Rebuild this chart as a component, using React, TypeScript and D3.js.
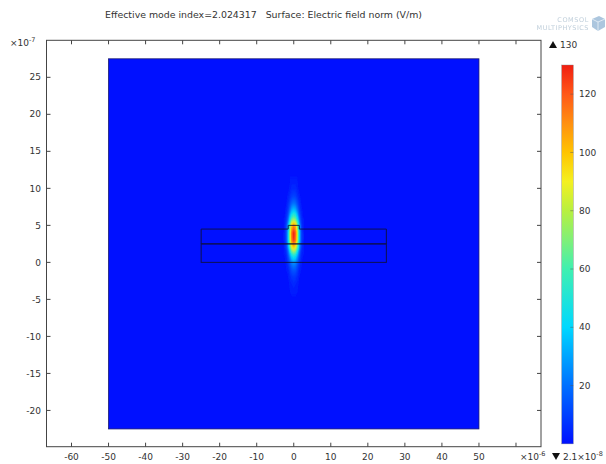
import React from "react";
import * as d3 from "d3";

// chart text
const title = "Effective mode index=2.024317   Surface: Electric field norm (V/m)";
const xTicks = [-60, -50, -40, -30, -20, -10, 0, 10, 20, 30, 40, 50, 60];
const xLabeled = [-60, -50, -40, -30, -20, -10, 0, 10, 20, 30, 40, 50];
const yTicks = [-20, -15, -10, -5, 0, 5, 10, 15, 20, 25];
const colorTicks = [20, 40, 60, 80, 100, 120];
const colorMax = 130;
const colorMinText = "2.1×10";
const colorMinExp = "-8";

// geometry (x in 1e-6 m, y in 1e-7 m)
const domainX = [-50, 50];
const domainY = [-22.5, 27.5];
const layerX = [-25, 25];
const layerY = [0, 2.5, 4.5];
const ridgeX = [-1.5, 1.5];
const ridgeTop = 5;

// electric field norm around the guided mode (V/m)
const fieldX = [-2.5, -2, -1.5, -1, -0.5, 0, 0.5, 1, 1.5, 2, 2.5];
const fieldY = [11, 10, 9, 8, 7, 6, 5, 4, 3, 2, 1, 0, -1, -2, -3, -4, -5];
const fieldE = [
  [0, 0, 1, 2, 3, 3, 3, 2, 1, 0, 0],
  [0, 1, 1, 3, 5, 5, 5, 3, 1, 1, 0],
  [0, 1, 3, 6, 9, 10, 9, 6, 3, 1, 0],
  [1, 2, 6, 12, 18, 20, 18, 12, 6, 2, 1],
  [1, 4, 10, 22, 33, 37, 33, 22, 10, 4, 1],
  [2, 7, 18, 40, 59, 66, 59, 40, 18, 7, 2],
  [3, 11, 31, 66, 99, 110, 99, 66, 31, 11, 3],
  [4, 13, 36, 78, 117, 130, 117, 78, 36, 13, 4],
  [4, 13, 36, 76, 114, 127, 114, 76, 36, 13, 4],
  [3, 10, 27, 59, 88, 98, 88, 59, 27, 10, 3],
  [2, 5, 15, 31, 47, 52, 47, 31, 15, 5, 2],
  [1, 3, 8, 16, 24, 27, 24, 16, 8, 3, 1],
  [0, 2, 4, 9, 14, 15, 14, 9, 4, 2, 0],
  [0, 1, 2, 5, 7, 8, 7, 5, 2, 1, 0],
  [0, 0, 1, 3, 4, 5, 4, 3, 1, 0, 0],
  [0, 0, 1, 2, 3, 3, 3, 2, 1, 0, 0],
  [0, 0, 0, 1, 1, 1, 1, 1, 0, 0, 0],
];

// rainbow colour table
const colorDomain = [0, 20, 40, 60, 70, 80, 90, 100, 110, 120, 130];
const colorRange = ["#0010ff", "#0070ff", "#00d8ff", "#40f0b0", "#80f078", "#b8f040", "#f4f020", "#ffc400", "#ff9010", "#ff5818", "#f01e10"];

const W = 606;
const H = 464;
const font = "DejaVu Sans, sans-serif";
const ink = "#333";
const axisColor = "#444";

export default function App() {
  const x = d3.scaleLinear().domain([-66.75, 66.75]).range([46.5, 541]);
  const y = d3.scaleLinear().domain([-24.9, 30]).range([446.7, 40.3]);
  const color = d3.scaleLinear<string>().domain(colorDomain).range(colorRange).interpolate(d3.interpolateRgb);
  const cb = d3.scaleLinear().domain([0, colorMax]).range([443.9, 65]);
  const cbX = 561.7;
  const cbW = 11.6;

  const nx = fieldX.length;
  const ny = fieldY.length;
  const stepX = fieldX[1] - fieldX[0];
  const stepY = fieldY[1] - fieldY[0];
  const bands = d3.contours().size([nx, ny]).thresholds(d3.range(2, 131, 2))(fieldE.flat());
  const proj = d3.geoTransform({
    point(px: number, py: number) {
      (this as any).stream.point(x(fieldX[0] + (px - 0.5) * stepX), y(fieldY[0] + (py - 0.5) * stepY));
    },
  });
  const geoPath = d3.geoPath(proj);

  const [x0, x1] = domainX;
  const [y0, y1] = domainY;
  const topOutline = d3.path();
  topOutline.moveTo(x(layerX[0]), y(layerY[1]));
  topOutline.lineTo(x(layerX[0]), y(layerY[2]));
  topOutline.lineTo(x(ridgeX[0]), y(layerY[2]));
  topOutline.lineTo(x(ridgeX[0]), y(ridgeTop));
  topOutline.lineTo(x(ridgeX[1]), y(ridgeTop));
  topOutline.lineTo(x(ridgeX[1]), y(layerY[2]));
  topOutline.lineTo(x(layerX[1]), y(layerY[2]));
  topOutline.lineTo(x(layerX[1]), y(layerY[1]));
  topOutline.closePath();

  const gradStops = d3.range(0, colorMax + 1, 5);

  return (
    <svg width={W} height={H} style={{ position: "fixed", left: 0, top: 0, background: "#fff" }} fontFamily={font}>
      <defs>
        <filter id="soft" x="-50%" y="-50%" width="200%" height="200%">
          <feGaussianBlur stdDeviation="0.6 1.3" />
        </filter>
        <linearGradient id="cbar" x1="0" y1="1" x2="0" y2="0">
          {gradStops.map((v) => (
            <stop key={v} offset={v / colorMax} stopColor={color(v)} />
          ))}
        </linearGradient>
      </defs>

      {/* title */}
      <text x={263.5} y={18} textAnchor="middle" fontSize={9.4} fill={ink} xmlSpace="preserve">
        {title}
      </text>

      {/* logo */}
      <g opacity={0.5}>
        <text x={589} y={22} textAnchor="end" fontSize={6.5} fill="#7f9db5" letterSpacing={0.6}>COMSOL</text>
        <text x={589} y={29.5} textAnchor="end" fontSize={6.5} fill="#7f9db5" letterSpacing={0.5}>MULTIPHYSICS</text>
        <path d="M592,19 L599,16 L605,19 L605,27 L598,31 L592,27 Z" fill="#5b8fbf" />
        <path d="M592,19 L598,22 L605,19 M598,22 L598,31" stroke="#d8e6f2" strokeWidth={0.8} fill="none" />
      </g>

      {/* domain surface */}
      <rect x={x(x0)} y={y(y1)} width={x(x1) - x(x0)} height={y(y0) - y(y1)} fill={color(0)} />
      <g filter="url(#soft)">
        {bands.map((b) => (
          <path key={b.value} d={geoPath(b as any) || ""} fill={color(b.value + 1)} />
        ))}
      </g>
      <rect x={x(x0)} y={y(y1)} width={x(x1) - x(x0)} height={y(y0) - y(y1)} fill="none" stroke="#1a1a70" strokeWidth={0.8} />

      {/* waveguide layers */}
      <g fill="none" stroke="#101030" strokeWidth={1} opacity={0.85}>
        <path d={topOutline.toString()} />
        <rect x={x(layerX[0])} y={y(layerY[1])} width={x(layerX[1]) - x(layerX[0])} height={y(layerY[0]) - y(layerY[1])} />
      </g>

      {/* frame */}
      <rect x={46.5} y={40.3} width={541 - 46.5} height={446.7 - 40.3} fill="none" stroke={axisColor} strokeWidth={1} />
      <g stroke={axisColor} strokeWidth={1}>
        {xTicks.map((t) => (
          <g key={"xt" + t}>
            <line x1={x(t)} x2={x(t)} y1={446.7} y2={442.7} />
            <line x1={x(t)} x2={x(t)} y1={40.3} y2={44.3} />
          </g>
        ))}
        {yTicks.map((t) => (
          <g key={"yt" + t}>
            <line x1={46.5} x2={50.5} y1={y(t)} y2={y(t)} />
            <line x1={541} x2={537} y1={y(t)} y2={y(t)} />
          </g>
        ))}
      </g>
      <g fontSize={9} fill={ink}>
        {xLabeled.map((t) => (
          <text key={"xl" + t} x={x(t)} y={460} textAnchor="middle">{t}</text>
        ))}
        {yTicks.map((t) => (
          <text key={"yl" + t} x={41} y={y(t)} dy="0.35em" textAnchor="end">{t}</text>
        ))}
        <text x={520} y={460}>
          ×10<tspan dy={-4} fontSize={6.5}>-6</tspan>
        </text>
        <text x={10} y={46}>
          ×10<tspan dy={-4} fontSize={6.5}>-7</tspan>
        </text>
      </g>

      {/* colour legend */}
      <rect x={cbX} y={cb(colorMax)} width={cbW} height={cb(0) - cb(colorMax)} fill="url(#cbar)" stroke="#888" strokeWidth={0.4} />
      <g stroke="#555" strokeWidth={0.8} opacity={0.6}>
        {colorTicks.map((t) => (
          <line key={"ct" + t} x1={cbX + cbW - 3} x2={cbX + cbW} y1={cb(t)} y2={cb(t)} />
        ))}
      </g>
      <g fontSize={9} fill={ink}>
        {colorTicks.map((t) => (
          <text key={"cl" + t} x={579} y={cb(t)} dy="0.35em">{t}</text>
        ))}
        <path d="M549,48 L553,41 L557,48 Z" fill="#111" />
        <text x={560} y={48}>{colorMax}</text>
        <path d="M552,453 L556,460 L560,453 Z" fill="#111" />
        <text x={563} y={460}>
          {colorMinText}<tspan dy={-4} fontSize={6.5}>{colorMinExp}</tspan>
        </text>
      </g>
    </svg>
  );
}
